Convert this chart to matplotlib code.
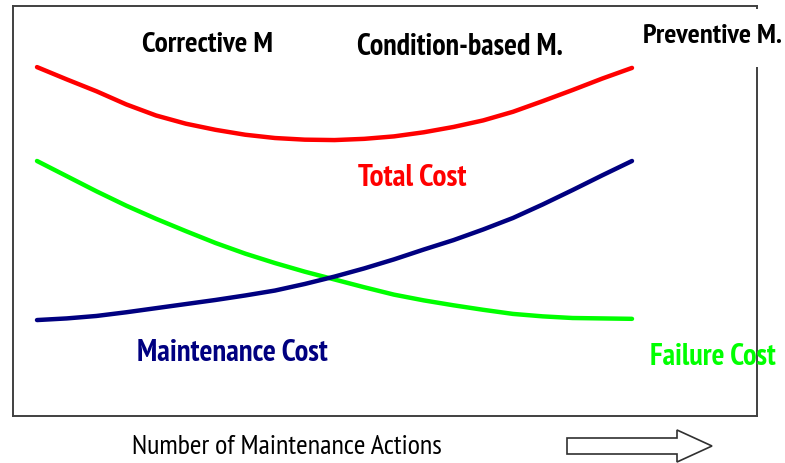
import matplotlib
matplotlib.use("Agg")
import matplotlib.pyplot as plt
from matplotlib.patches import FancyArrow, Rectangle
from matplotlib import font_manager

# ---- data ----
actions = [0, 0.5, 1, 1.5, 2, 2.5, 3, 3.5, 4, 4.5, 5, 5.5, 6, 6.5, 7, 7.5, 8, 8.5, 9, 9.5, 10]
total_cost = [8.51, 8.21, 7.92, 7.60, 7.33, 7.13, 6.98, 6.86, 6.78, 6.74, 6.73,
              6.76, 6.82, 6.92, 7.05, 7.21, 7.42, 7.68, 7.95, 8.23, 8.49]
failure_cost = [6.22, 5.85, 5.48, 5.13, 4.81, 4.51, 4.22, 3.96, 3.73, 3.52, 3.33,
                3.14, 2.96, 2.82, 2.70, 2.59, 2.49, 2.43, 2.39, 2.38, 2.37]
maintenance_cost = [2.34, 2.38, 2.44, 2.53, 2.63, 2.73, 2.83, 2.94, 3.06, 3.22, 3.40,
                    3.60, 3.82, 4.06, 4.29, 4.55, 4.83, 5.16, 5.51, 5.87, 6.22]

labels = ['Corrective M', 'Condition-based M.', 'Preventive M.',
          'Total Cost', 'Maintenance Cost', 'Failure Cost']
x_label = 'Number of Maintenance Actions'

names = {f.name for f in font_manager.fontManager.ttflist}
FAM = ['PT Sans Narrow', 'DejaVu Sans'] if 'PT Sans Narrow' in names else ['Liberation Sans', 'DejaVu Sans']

W, H = 785, 463
fig = plt.figure(figsize=(W / 100, H / 100), dpi=100)
fig.patch.set_facecolor('white')

L, R, T, B = 13, 757, 6, 416
ax = fig.add_axes([L / W, (H - B) / H, (R - L) / W, (B - T) / H])
ax.set_xlim((L - 37) / 59.5, (R - 37) / 59.5)
ax.set_ylim(0, 10)
ax.set_xticks([])
ax.set_yticks([])
for s in ax.spines.values():
    s.set_color('#404040')
    s.set_linewidth(1.4)

lw = 3.2
ax.plot(actions, total_cost, color='#ff0000', lw=lw, solid_capstyle='round', solid_joinstyle='round')
ax.plot(actions, failure_cost, color='#00ff00', lw=lw, solid_capstyle='round', solid_joinstyle='round')
ax.plot(actions, maintenance_cost, color='#000080', lw=lw, solid_capstyle='round', solid_joinstyle='round')

# overlay in pixel coordinates for annotations
ov = fig.add_axes([0, 0, 1, 1])
ov.set_xlim(0, W)
ov.set_ylim(H, 0)
ov.axis('off')
ov.patch.set_visible(False)

ov.add_patch(Rectangle((640, 9), 145, 58, facecolor='white', edgecolor='none', zorder=1))

renderer = fig.canvas.get_renderer()


def fitted(x, y, s, width, color, weight='bold'):
    t = ov.text(x, y, s, color=color, fontsize=18, fontweight=weight, family=FAM,
                va='baseline', ha='left', zorder=3)
    w = t.get_window_extent(renderer=renderer).width
    t.set_fontsize(18 * width / w)
    return t


fitted(142, 52, labels[0], 131, 'black')
fitted(357, 55, labels[1], 206, 'black')
fitted(643, 43, labels[2], 139, 'black')
fitted(358, 186, labels[3], 109, '#ff0000')
fitted(137, 361, labels[4], 191, '#000080')
fitted(650, 365, labels[5], 126, '#00ff00')
fitted(132, 454, x_label, 310, 'black', weight='normal')

ov.add_patch(FancyArrow(567, 446, 145, 0, width=16, head_width=32, head_length=35,
                        length_includes_head=True, facecolor='white', edgecolor='#303030',
                        linewidth=1.2, clip_on=False))

fig.savefig('out.png', dpi=100)
